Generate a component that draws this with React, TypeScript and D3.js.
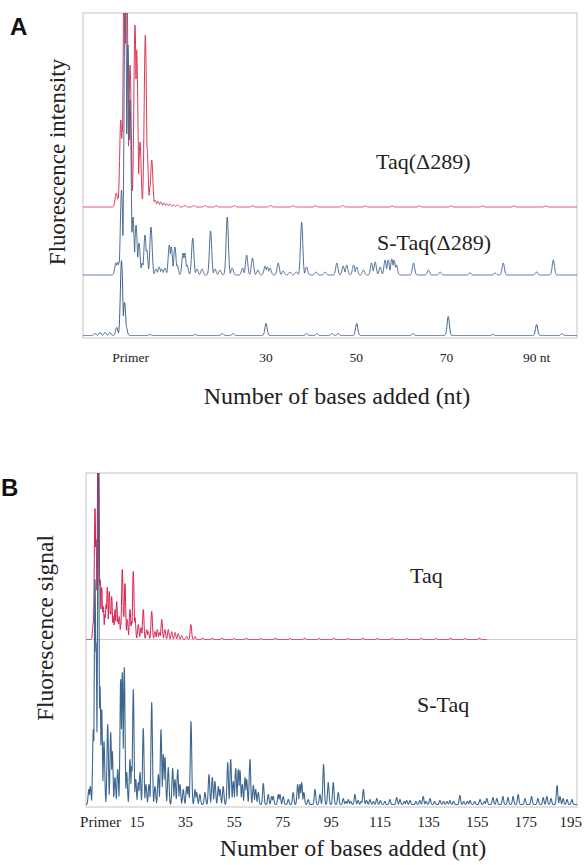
import React from "react";
import * as d3 from "d3";

type Peak = [number, number]; // [position in nt, signal height]

// ---------- Panel A data ----------
const aTaqPeaks: Peak[] = [
  [-3.2, 14], [-2.8, 9], [-2.2, 87], [-1.86, 77], [-1.4, 280], [-0.9, 250], [-0.15, 142],
  [0.95, 182], [1.33, 157], [2.06, 65], [3.24, 172], [3.6, 60], [4.35, 22], [4.66, 47],
  [5.4, 7], [6.05, 6], [6.7, 5], [7.4, 4], [8.05, 3], [8.7, 3], [9.5, 2], [10.4, 2],
  [12, 1.5], [14, 1.5], [16.5, 1.5], [19, 1.2], [23, 1.5], [27, 1.2], [31, 1.5], [36, 1.2],
  [41, 1.2], [47, 1.5], [52, 1], [58, 1], [64, 1], [71, 1], [78, 1], [85, 1], [92, 1],
];

const aSTaqPeaks: Peak[] = [
  [-3.3, 12], [-2.9, 13], [-2.6, 12], [-2.04, 85], [-1.2, 320], [-0.6, 230], [-0.15, 175],
  [0.5, 58], [1.18, 50], [1.84, 32], [2.57, 12], [3.17, 40], [3.55, 25], [4.5, 48],
  [5.6, 6], [6.3, 8], [6.9, 6], [7.6, 7], [8.56, 30], [9.0, 28], [9.8, 28], [10.3, 10],
  [11.6, 22], [12.0, 22], [12.5, 10], [13.75, 37], [14.7, 6], [15.8, 6], [17.7, 44],
  [18.7, 6], [19.8, 5], [21.4, 58], [22.5, 7], [24.8, 7], [25.7, 20], [27.0, 17], [28.2, 5],
  [29.8, 9], [30.3, 8], [30.9, 7], [32.7, 12], [33.8, 4], [35.3, 3], [36.7, 3], [37.9, 53],
  [39.0, 8], [41.1, 3], [43.1, 3], [45.7, 12], [47.1, 9], [47.9, 10], [49.4, 10], [50.1, 8],
  [51.6, 5], [53.4, 12], [54.2, 13], [55.3, 8], [56.4, 15], [57.1, 15], [57.9, 16], [58.4, 15],
  [58.9, 10], [62.7, 12], [66.0, 5], [68.6, 3], [75.2, 2], [80.8, 2], [82.6, 12], [90.0, 3],
  [93.7, 15],
];

const aLadderPeaks: Peak[] = [
  [-7.9, 2], [-6.8, 3], [-5.7, 3], [-4.6, 3], [-3.1, 8], [-2.04, 75], [-1.37, 33], [-1.04, 10],
  [4.3, 1], [14.3, 1], [20.3, 2], [22.7, 2], [30, 12], [39, 2], [41.3, 2], [44.6, 2], [46, 2],
  [50.1, 12], [62.6, 2], [70.4, 19], [80.3, 1], [90, 11], [95.6, 2],
];

const aTickValues = [0, 30, 50, 70, 90];
const aTickLabels = ["Primer", "30", "50", "70", "90 nt"];

// ---------- Panel B data ----------
const bTaqPeaks: Peak[] = [
  [-2.96, 17], [-2.26, 131], [-1.85, 100], [-0.9, 300], [-0.2, 60], [0.49, 52], [0.8, 30],
  [1.15, 33], [1.85, 25], [2.3, 35], [2.8, 52], [3.62, 48], [4.1, 28], [4.6, 43], [5.27, 23],
  [5.97, 30], [6.67, 38], [7.2, 20], [7.74, 23], [8.4, 15], [8.97, 70], [9.5, 25], [10.08, 56],
  [11.03, 20], [12.14, 30], [12.8, 18], [13.5, 68], [14.2, 22], [15.56, 15], [16.67, 12],
  [17.6, 30], [19.0, 10], [19.67, 8], [21.07, 28], [22.4, 8], [23.4, 10], [24.3, 7], [25.2, 20],
  [26.5, 10], [27.9, 10], [29.3, 8], [30.7, 7], [32.0, 6], [33.4, 4], [35.5, 3], [37.2, 15],
  [38.9, 3], [42, 1.5], [46, 1.5], [50, 1.5], [55, 1.2], [60, 1.5], [66, 1.2], [72, 1.5],
  [78, 1.2], [84, 1.5], [90, 1.2], [96, 1.5], [102, 1.2], [108, 1.5], [114, 1.2], [120, 1.5],
  [126, 1.2], [132, 1.5], [138, 1.2], [144, 1.5], [150, 1.2], [156, 1.5],
];

const bSTaqPeaks: Peak[] = [
  [-4.8, 15], [-4.2, 18], [-2.96, 75], [-2.26, 225], [-1.85, 162], [-0.9, 340], [-0.2, 118],
  [0.49, 95], [1.44, 63], [2.96, 80], [4.2, 72], [4.86, 53], [5.97, 27], [7.08, 35], [8.31, 125],
  [8.97, 132], [9.79, 137], [10.78, 32], [12.14, 45], [12.84, 38], [13.5, 115], [14.49, 25],
  [15.56, 22], [16.26, 32], [17.6, 76], [18.72, 20], [19.96, 20], [21.07, 102], [22.43, 18],
  [23.79, 30], [24.9, 75], [25.84, 50], [26.54, 47], [27.9, 37], [29.7, 36], [30.66, 25],
  [31.77, 35], [32.7, 20], [34.07, 15], [35.47, 18], [36.1, 18], [37.24, 83], [38.9, 15],
  [39.6, 12], [40.9, 10], [43.0, 12], [44.65, 30], [46.0, 27], [47.1, 23], [48.5, 18],
  [49.2, 15], [50.5, 18], [52.35, 42], [53.58, 45], [54.65, 23], [55.64, 36], [56.7, 35],
  [57.4, 34], [58.35, 20], [59.47, 27], [60.16, 25], [61.5, 45], [62.9, 19], [63.87, 15],
  [64.94, 12], [67.0, 21], [69.05, 10], [70.45, 8], [71.1, 8], [73.17, 10], [73.87, 10],
  [75.2, 8], [77.3, 5], [79.3, 12], [81.15, 20], [82.1, 20], [82.8, 22], [83.7, 12], [85.5, 5],
  [88.27, 15], [90.3, 10], [91.8, 40], [93.74, 22], [95.8, 22], [97.86, 12], [99.9, 6],
  [101, 3], [102, 5], [103, 3], [104.7, 10], [106, 4], [107.3, 3], [108.2, 15], [109.5, 4],
  [110.9, 5], [112.3, 3], [113.7, 6], [115.2, 4], [117, 3], [119.1, 5], [121.9, 7], [123.25, 5],
  [125, 3], [126, 4], [127.4, 4], [129.8, 3], [131.4, 4], [132.8, 8], [134, 3], [135.6, 6],
  [137.5, 3], [139.7, 4], [141.2, 3], [142.6, 3], [143.8, 4], [145.3, 3], [147.9, 9],
  [149.5, 3], [151, 3], [152.1, 4], [154, 3], [156.2, 5], [158, 3], [159, 6], [161.5, 7],
  [163.1, 6], [165.6, 8], [167.7, 7], [169.8, 8], [171.9, 10], [174.7, 6], [177.4, 8],
  [180, 6], [182.2, 7], [183.7, 8], [185.4, 6], [187.9, 19], [189.1, 8], [190.4, 6], [192, 5],
  [194, 5],
];

const bTickValues = [0, 15, 35, 55, 75, 95, 115, 135, 155, 175, 195];
const bTickLabels = ["Primer", "15", "35", "55", "75", "95", "115", "135", "155", "175", "195"];

// sample the peak list into a trace (max envelope of narrow gaussian peaks)
function sampleTrace(peaks: Peak[], x0: number, x1: number, step: number, sigma: number): [number, number][] {
  const xs = d3.range(x0, x1 + step / 2, step).concat(
    peaks.map((p) => p[0]).filter((p) => p >= x0 && p <= x1)
  );
  xs.sort((a, b) => a - b);
  return xs.map((x) => {
    let v = 0;
    for (const [p, h] of peaks) {
      const d = (x - p) / sigma;
      if (d * d < 30) {
        const g = h * Math.exp(-0.5 * d * d);
        if (g > v) v = g;
      }
    }
    return [x, v] as [number, number];
  });
}

const SERIF = "'Liberation Serif','Times New Roman',serif";
const SANS = "'Liberation Sans',Arial,sans-serif";

export default function App() {
  // Panel A scales
  const xA = d3.scaleLinear().domain([-10.58, 98.95]).range([83, 577]);
  const yA = d3.scaleLinear().domain([0, 325]).range([338, 13]);
  // Panel B scales
  const xB = d3.scaleLinear().domain([-5.97, 196.1]).range([86, 577]);
  const yB = d3.scaleLinear().domain([0, 334]).range([807, 473]);

  const lineFor = (xs: d3.ScaleLinear<number, number>, ys: d3.ScaleLinear<number, number>, offset: number) =>
    d3
      .line<[number, number]>()
      .x((d) => xs(d[0]))
      .y((d) => ys(offset + d[1]));

  const [a0, a1] = xA.domain();
  const [b0, b1] = xB.domain();

  const pathATaq = lineFor(xA, yA, 131)(sampleTrace(aTaqPeaks, a0, a1, 0.05, 0.25)) || "";
  const pathASTaq = lineFor(xA, yA, 63)(sampleTrace(aSTaqPeaks, a0, a1, 0.05, 0.25)) || "";
  const pathALadder = lineFor(xA, yA, 2.5)(sampleTrace(aLadderPeaks, a0, a1, 0.05, 0.25)) || "";

  const pathBTaq = lineFor(xB, yB, 167.5)(sampleTrace(bTaqPeaks, b0, 159, 0.06, 0.3)) || "";
  const pathBSTaq = lineFor(xB, yB, 2.5)(sampleTrace(bSTaqPeaks, b0, b1, 0.06, 0.3)) || "";

  const frameColor = "#c4c4c4";
  const redA = "#dc3a55";
  const blueA = "#3c5f88";
  const redB = "#d8204c";
  const blueB = "#2e5a86";

  const lastB = bTickValues.length - 1;

  return (
    <svg
      width={584}
      height={865}
      viewBox="0 0 584 865"
      style={{ position: "absolute", left: 0, top: 0, display: "block", background: "#fff" }}
    >
      <defs>
        <clipPath id="clipA">
          <rect x={83} y={13} width={494} height={325} />
        </clipPath>
        <clipPath id="clipB">
          <rect x={86} y={473} width={491} height={334} />
        </clipPath>
      </defs>
      <rect x={0} y={0} width={584} height={865} fill="#fff" />

      {/* ---------------- Panel A ---------------- */}
      <text x={10} y={35} fontFamily={SANS} fontWeight="bold" fontSize={24} fill="#111">A</text>
      <rect x={83} y={13} width={494} height={325} fill="none" stroke={frameColor} strokeWidth={1} />
      <g clipPath="url(#clipA)" fill="none" strokeLinejoin="round">
        <path d={pathATaq} stroke={redA} strokeWidth={1} />
        <path d={pathASTaq} stroke={blueA} strokeWidth={1} strokeOpacity={0.9} />
        <path d={pathALadder} stroke={blueA} strokeWidth={1} />
      </g>
      <text
        transform={`translate(65,162) rotate(-90)`}
        textAnchor="middle"
        fontFamily={SERIF}
        fontSize={23}
        fill="#222"
      >
        Fluorescence intensity
      </text>
      <text x={376} y={169} fontFamily={SERIF} fontSize={22} fill="#222">Taq(Δ289)</text>
      <text x={377} y={250} fontFamily={SERIF} fontSize={22} fill="#222">S-Taq(Δ289)</text>
      {aTickValues.map((v, i) => (
        <text key={"ta" + i} x={xA(v)} y={362} textAnchor="middle" fontFamily={SERIF} fontSize={13.5} fill="#222">
          {aTickLabels[i]}
        </text>
      ))}
      <text x={337} y={404} textAnchor="middle" fontFamily={SERIF} fontSize={24} fill="#222">
        Number of bases added (nt)
      </text>

      {/* ---------------- Panel B ---------------- */}
      <text x={1} y={496} fontFamily={SANS} fontWeight="bold" fontSize={24} fill="#111">B</text>
      <rect x={86} y={473} width={491} height={334} fill="none" stroke={frameColor} strokeWidth={1} />
      <line x1={86} x2={577} y1={yB(167.5)} y2={yB(167.5)} stroke="#cfcfcf" strokeWidth={1} />
      <g clipPath="url(#clipB)" fill="none" strokeLinejoin="round">
        <path d={pathBTaq} stroke={redB} strokeWidth={1} />
        <path d={pathBSTaq} stroke={blueB} strokeWidth={1.1} strokeOpacity={0.92} />
      </g>
      <text
        transform={`translate(53,628) rotate(-90)`}
        textAnchor="middle"
        fontFamily={SERIF}
        fontSize={23.5}
        fill="#222"
      >
        Fluorescence signal
      </text>
      <text x={410} y={583} fontFamily={SERIF} fontSize={22} fill="#222">Taq</text>
      <text x={417} y={712} fontFamily={SERIF} fontSize={22} fill="#222">S-Taq</text>
      {bTickValues.map((v, i) => (
        <text
          key={"tb" + i}
          x={i === lastB ? Math.min(xB(v) + 11, 582) : xB(v)}
          y={827}
          textAnchor={i === lastB ? "end" : "middle"}
          fontFamily={SERIF}
          fontSize={15}
          fill="#222"
        >
          {bTickLabels[i]}
        </text>
      ))}
      <text x={353} y={856} textAnchor="middle" fontFamily={SERIF} fontSize={24} fill="#222">
        Number of bases added (nt)
      </text>
    </svg>
  );
}
